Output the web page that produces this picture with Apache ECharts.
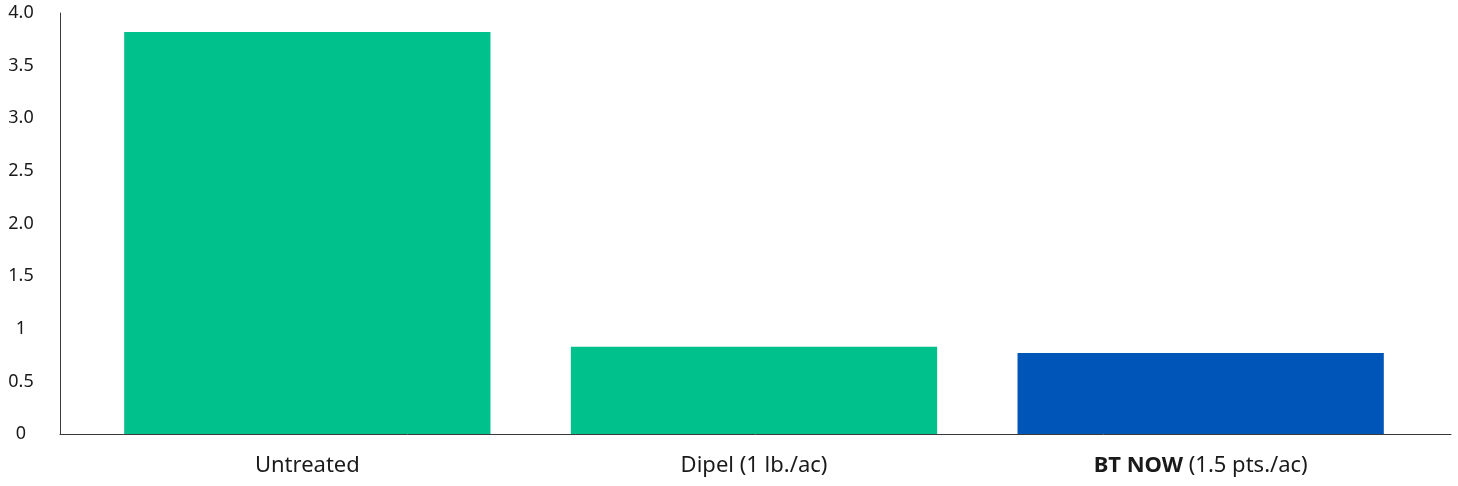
<!DOCTYPE html>
<html>
<head>
<meta charset="utf-8">
<script src="https://cdn.jsdelivr.net/npm/echarts@6/dist/echarts.min.js"></script>
<style>
  html, body { margin: 0; padding: 0; background: #fff; }
  #chart { width: 1458px; height: 486px; }
</style>
</head>
<body>
<div id="chart"></div>
<script>
// data
const categories = ['Untreated', 'Dipel (1 lb./ac)', 'BT NOW (1.5 pts./ac)']
const values = [3.82, 0.83, 0.77]
const barColors = ['#00c08b', '#00c08b', '#0055b8']
const yTickLabels = { 0: '0', 0.5: '0.5', 1: '1', 1.5: '1.5', 2: '2.0', 2.5: '2.5', 3: '3.0', 3.5: '3.5', 4: '4.0' }

const fontFamily = '"Noto Sans", "Open Sans", sans-serif'
const axisColor = '#3a3a3a'

let myChart = echarts.init(document.getElementById('chart'))
let option = {
  animation: false,
  grid: [
    // outer grid: carries the axis lines, slightly wider than the bars
    { left: 60, right: 7, top: 13, bottom: 52 },
    // inner grid: the bars and category labels
    { left: 84, right: 34, top: 13, bottom: 52 }
  ],
  xAxis: [
    {
      gridIndex: 0,
      type: 'value',
      min: 0,
      max: 1,
      axisLine: { show: true, lineStyle: { color: axisColor, width: 1 } },
      axisTick: { show: false },
      axisLabel: { show: false },
      splitLine: { show: false }
    },
    {
      gridIndex: 1,
      type: 'category',
      data: categories,
      axisLine: { show: false },
      axisTick: { show: false },
      axisLabel: {
        margin: 21,
        fontSize: 22,
        color: '#1a1a1a',
        fontFamily: fontFamily,
        formatter: function (v) {
          if (v.indexOf('BT NOW') === 0) {
            return '{b|BT NOW}' + v.slice(6)
          }
          return v
        },
        rich: {
          b: { fontWeight: 'bold', fontSize: 22, color: '#1a1a1a', fontFamily: fontFamily }
        }
      }
    }
  ],
  yAxis: [
    {
      gridIndex: 0,
      type: 'value',
      min: 0,
      max: 4,
      interval: 0.5,
      axisLine: { show: true, lineStyle: { color: axisColor, width: 1 } },
      axisTick: { show: false },
      splitLine: { show: false },
      axisLabel: {
        align: 'center',
        margin: 39,
        fontSize: 18,
        padding: [3, 0, 0, 0],
        color: '#1a1a1a',
        fontFamily: fontFamily,
        formatter: function (v) { return yTickLabels[v] !== undefined ? yTickLabels[v] : '' }
      }
    },
    {
      gridIndex: 1,
      type: 'value',
      min: 0,
      max: 4,
      show: false
    }
  ],
  series: [{
    type: 'bar',
    xAxisIndex: 1,
    yAxisIndex: 1,
    barWidth: '82%',
    data: values.map((v, i) => ({ value: v, itemStyle: { color: barColors[i] } }))
  }]
}
myChart.setOption(option)
</script>
</body>
</html>
